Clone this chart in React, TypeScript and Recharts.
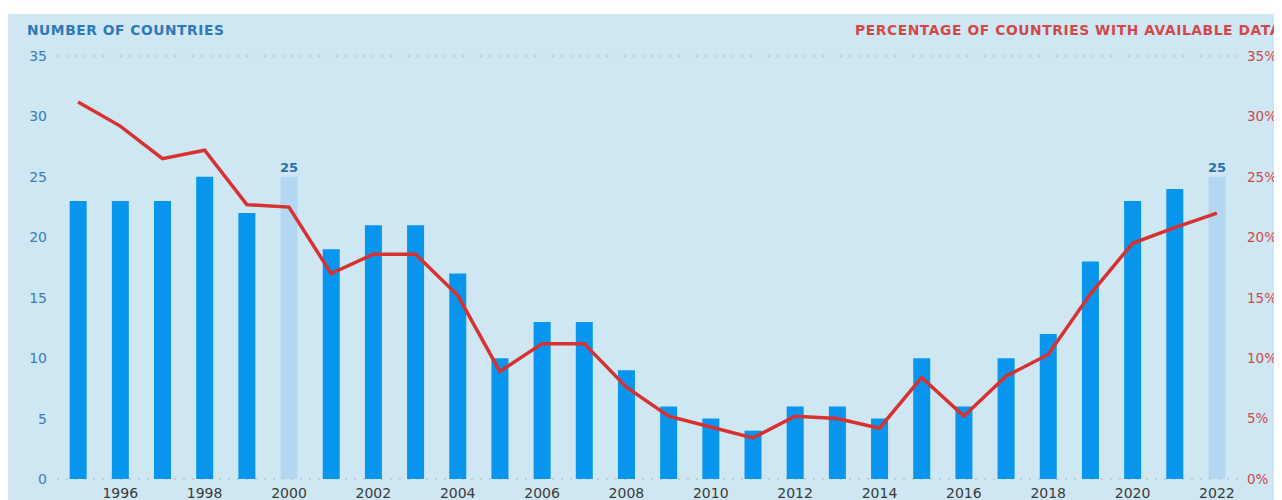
import { Bar, CartesianGrid, Cell, ComposedChart, LabelList, Line, XAxis, YAxis } from "recharts";

const years = [
  "1995", "1996", "1997", "1998", "1999", "2000", "2001", "2002", "2003", "2004",
  "2005", "2006", "2007", "2008", "2009", "2010", "2011", "2012", "2013", "2014",
  "2015", "2016", "2017", "2018", "2019", "2020", "2021", "2022",
];
const countries = [23, 23, 23, 25, 22, 25, 19, 21, 21, 17, 10, 13, 13, 9, 6, 5, 4, 6, 6, 5, 10, 6, 10, 12, 18, 23, 24, 25];
const percentage = [
  31.2, 29.2, 26.5, 27.2, 22.7, 22.5, 17.0, 18.6, 18.6, 15.2, 8.9, 11.2, 11.2, 7.6, 5.2, 4.3, 3.4, 5.2, 5.0, 4.2,
  8.4, 5.2, 8.5, 10.3, 15.3, 19.5, 20.8, 22.0,
];
const highlightYears = ["2000", "2022"];
const yTicks = [0, 5, 10, 15, 20, 25, 30, 35];

const data = years.map((year, i) => ({ year, countries: countries[i], pct: percentage[i] }));

const BLUE = "#0895ee";
const LIGHT = "#b3d7f1";
const RED = "#d7322f";
const FONT = "'DejaVu Sans', sans-serif";

function HighlightLabel(props: any) {
  const { x, y, width, value, index } = props;
  if (!highlightYears.includes(years[index])) return null;
  return (
    <text x={x + width / 2} y={y - 5} textAnchor="middle" fill="#2b6fae" fontSize={13} fontWeight={700} fontFamily={FONT}>
      {value}
    </text>
  );
}

export default function App() {
  return (
    <div style={{ position: "relative", width: 1274, height: 486, marginTop: 6, background: "#cfe7f3", fontFamily: FONT }}>
      <div style={{ position: "absolute", left: 19, top: 8, fontSize: 13.8, fontWeight: 700, color: "#3079b8", letterSpacing: 0.55, whiteSpace: "nowrap" }}>
        NUMBER OF COUNTRIES
      </div>
      <div style={{ position: "absolute", right: 1, top: 8, fontSize: 13.8, fontWeight: 700, color: "#d2474a", letterSpacing: 0.6, whiteSpace: "nowrap" }}>
        PERCENTAGE OF COUNTRIES WITH AVAILABLE DATA
      </div>
      <ComposedChart width={1274} height={486} data={data} margin={{ top: 42, right: 0, bottom: 0, left: 0 }} barCategoryGap="30%">
        <CartesianGrid vertical={false} stroke="#a4b6c0" strokeDasharray="2 7" />
        <XAxis
          dataKey="year"
          interval={0}
          height={21}
          axisLine={false}
          tickLine={false}
          tickSize={0}
          tickMargin={9}
          tick={{ fill: "#3a3a3a", fontSize: 14, fontFamily: FONT }}
          tickFormatter={(v: string) => (Number(v) % 2 === 0 ? v : "")}
        />
        <YAxis
          yAxisId="left"
          orientation="left"
          width={49}
          domain={[0, 35]}
          ticks={yTicks}
          axisLine={false}
          tickLine={false}
          tickSize={0}
          tickMargin={10}
          tick={{ fill: "#3a7cbc", fontSize: 14, fontFamily: FONT }}
        />
        <YAxis
          yAxisId="right"
          orientation="right"
          width={44}
          domain={[0, 35]}
          ticks={yTicks}
          axisLine={false}
          tickLine={false}
          tickSize={0}
          tickMargin={9}
          tick={{ fill: "#d2474a", fontSize: 13.5, fontFamily: FONT, textAnchor: "start" }}
          tickFormatter={(v: number) => `${v}%`}
        />
        <Bar yAxisId="left" dataKey="countries" isAnimationActive={false}>
          {data.map((d) => (
            <Cell key={d.year} fill={highlightYears.includes(d.year) ? LIGHT : BLUE} />
          ))}
          <LabelList dataKey="countries" content={HighlightLabel} />
        </Bar>
        <Line
          yAxisId="right"
          dataKey="pct"
          type="linear"
          stroke={RED}
          strokeWidth={3.5}
          dot={false}
          activeDot={false}
          isAnimationActive={false}
        />
      </ComposedChart>
    </div>
  );
}
